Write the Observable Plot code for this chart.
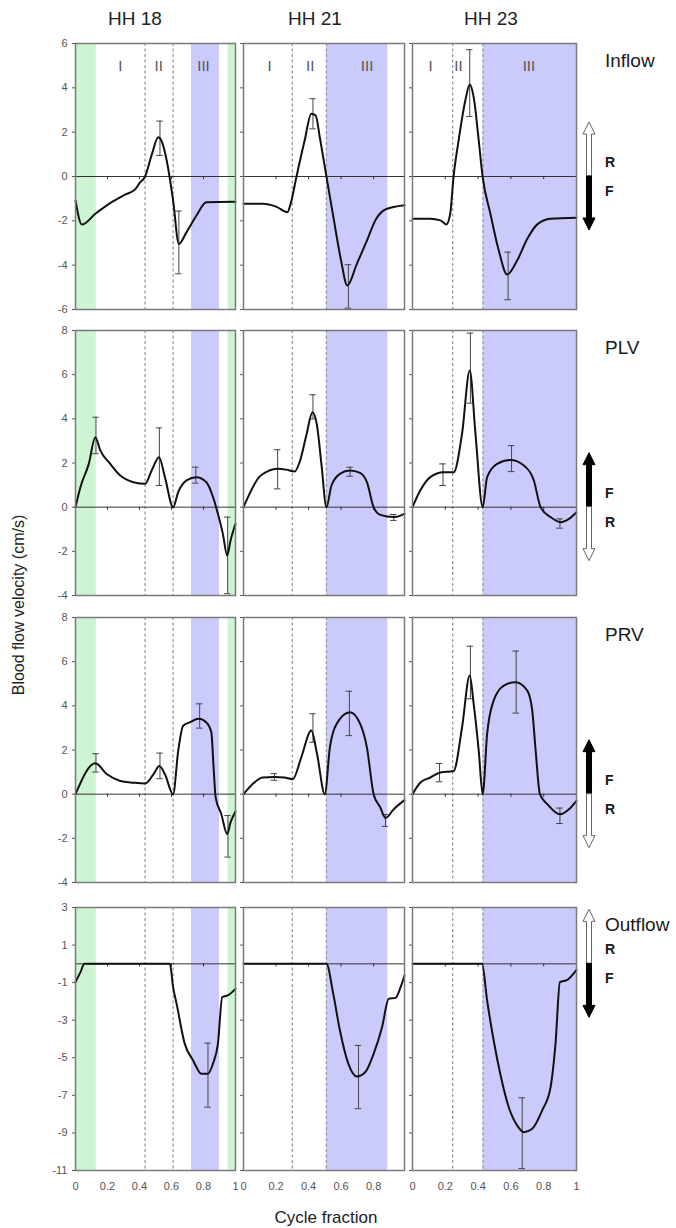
<!DOCTYPE html>
<html><head><meta charset="utf-8">
<script src="https://cdn.jsdelivr.net/npm/d3@7"></script>
<script src="https://cdn.jsdelivr.net/npm/@observablehq/plot@0.6"></script>
<style>
body{margin:0;background:#fff;font-family:"Liberation Sans",Arial,sans-serif;}
#wrap{position:relative;width:676px;height:1228px;overflow:hidden;background:#fff;}
#wrap > svg{position:absolute;}
</style></head><body><div id="wrap"></div>
<script>
// ---------- data ----------
const stages = ["HH 18", "HH 21", "HH 23"];
const vessels = ["Inflow", "PLV", "PRV", "Outflow"];
const arrowUpperLabel = ["R", "F", "F", "R"];
const arrowLowerLabel = ["F", "R", "R", "F"];
const xMax = [1, 0.99, 1];
const xTickValues = [[0,0.2,0.4,0.6,0.8,1],[0,0.2,0.4,0.6,0.8],[0,0.2,0.4,0.6,0.8,1]];
const yDomains = [[-6,6],[-4,8],[-4,8],[-11,3]];
const yTickValues = [[-6,-4,-2,0,2,4,6],[-4,-2,0,2,4,6,8],[-4,-2,0,2,4,6,8],[-11,-9,-7,-5,-3,-1,1,3]];
const phaseLines = [[0.435,0.61],[0.30,0.51],[0.245,0.43]];
const greenBands = [[[0,0.13],[0.953,1]],[],[]];
const blueBands = [[[0.725,0.90]],[[0.51,0.887]],[[0.43,1]]];
const phaseLabels = [
  [["I",0.28],["II",0.52],["III",0.80]],
  [["I",0.16],["II",0.41],["III",0.76]],
  [["I",0.11],["II",0.28],["III",0.71]]
];

const inflow18 = [[0,-1.08],[0.04,-2.17],[0.124,-1.68],[0.217,-1.2],[0.31,-0.82],[0.373,-0.58],[0.40,-0.3],[0.435,0],[0.476,0.97],[0.517,1.77],[0.538,1.6],[0.57,0.72],[0.61,-1.08],[0.646,-3.04],[0.694,-2.51],[0.756,-1.76],[0.818,-1.16],[1.0,-1.14]];
const inflow18Err = [[0.528,2.5,0.95],[0.646,-1.56,-4.39]];
const inflow21 = [[0,-1.23],[0.12,-1.23],[0.2,-1.36],[0.27,-1.61],[0.29,-1.23],[0.325,-0.03],[0.376,1.62],[0.417,2.83],[0.444,2.75],[0.469,1.77],[0.51,0],[0.552,-1.8],[0.60,-3.79],[0.638,-4.92],[0.697,-3.94],[0.759,-2.89],[0.81,-1.99],[0.862,-1.53],[0.924,-1.38],[0.99,-1.3]];
const inflow21Err = [[0.427,3.51,2.15],[0.645,-3.98,-5.94]];
const inflow23 = [[0,-1.91],[0.108,-1.91],[0.17,-1.98],[0.206,-2.16],[0.23,-1.68],[0.25,-0.03],[0.281,1.62],[0.322,3.43],[0.349,4.15],[0.373,3.58],[0.404,1.62],[0.428,-0.03],[0.475,-1.68],[0.526,-3.34],[0.577,-4.42],[0.638,-3.79],[0.70,-2.81],[0.761,-2.16],[0.842,-1.91],[1.0,-1.86]];
const inflow23Err = [[0.349,5.72,2.71],[0.583,-3.41,-5.56]];

const plv18 = [[0,0],[0.031,0.91],[0.083,1.96],[0.124,3.17],[0.155,2.57],[0.217,1.96],[0.28,1.43],[0.362,1.13],[0.435,1.06],[0.476,1.66],[0.522,2.26],[0.559,1.36],[0.61,0],[0.642,0.68],[0.694,1.21],[0.756,1.36],[0.818,1.13],[0.86,0.45],[0.89,-0.3],[0.921,-1.21],[0.948,-2.19],[0.969,-1.51],[1.0,-0.75]];
const plv18Err = [[0.128,4.07,2.42],[0.524,3.59,0.98],[0.752,1.81,1.09],[0.951,-0.45,-3.92]];
const plv21 = [[0,0],[0.096,1.36],[0.158,1.66],[0.21,1.74],[0.262,1.70],[0.314,1.61],[0.345,2.04],[0.386,3.24],[0.424,4.30],[0.452,3.70],[0.48,1.89],[0.51,0],[0.541,0.98],[0.593,1.51],[0.655,1.66],[0.717,1.55],[0.759,1.13],[0.80,0],[0.841,-0.35],[0.924,-0.45],[0.99,-0.3]];
const plv21Err = [[0.21,2.60,0.83],[0.427,5.09,4.0],[0.655,1.81,1.40],[0.924,-0.33,-0.6]];
const plv23 = [[0,0],[0.047,0.75],[0.108,1.36],[0.19,1.58],[0.251,1.58],[0.302,3.32],[0.349,6.19],[0.384,3.32],[0.428,0],[0.455,1.36],[0.516,1.96],[0.598,2.14],[0.679,1.89],[0.74,1.21],[0.781,0],[0.842,-0.45],[0.903,-0.68],[0.954,-0.53],[1.0,-0.23]];
const plv23Err = [[0.186,1.96,0.98],[0.353,7.88,4.71],[0.604,2.79,1.61],[0.899,-0.53,-0.95]];

const prv18 = [[0,0],[0.124,1.40],[0.197,0.90],[0.28,0.6],[0.362,0.52],[0.435,0.48],[0.487,0.9],[0.524,1.28],[0.559,0.9],[0.61,0],[0.642,1.96],[0.673,3.1],[0.714,3.25],[0.77,3.41],[0.818,3.25],[0.849,2.80],[0.863,1.21],[0.876,-0.15],[0.911,-0.9],[0.948,-1.81],[0.969,-1.28],[1.0,-0.78]];
const prv18Err = [[0.128,1.83,1.0],[0.528,1.86,0.70],[0.776,4.09,2.99],[0.953,-0.97,-2.85]];
const prv21 = [[0,0],[0.055,0.45],[0.117,0.75],[0.19,0.78],[0.252,0.75],[0.303,0.68],[0.355,1.66],[0.417,2.88],[0.452,1.83],[0.50,0],[0.531,2.11],[0.573,3.19],[0.655,3.71],[0.717,3.19],[0.759,2.11],[0.80,0],[0.841,-0.6],[0.873,-1.08],[0.924,-0.68],[0.99,-0.27]];
const prv21Err = [[0.19,0.93,0.63],[0.427,3.64,2.35],[0.651,4.66,2.65],[0.873,-0.92,-1.46]];
const prv23 = [[0,0],[0.047,0.52],[0.108,0.75],[0.17,0.98],[0.251,1.05],[0.302,3.02],[0.349,5.37],[0.373,4.09],[0.404,1.96],[0.428,0],[0.455,2.72],[0.495,4.24],[0.557,4.92],[0.629,5.07],[0.70,4.69],[0.73,3.79],[0.751,1.96],[0.777,0],[0.822,-0.45],[0.899,-0.91],[0.954,-0.68],[1.0,-0.3]];
const prv23Err = [[0.165,1.39,0.56],[0.353,6.70,4.32],[0.632,6.48,3.67],[0.899,-0.63,-1.33]];

const out18 = [[0,-0.97],[0.031,-0.44],[0.056,0],[0.59,0],[0.61,-1.24],[0.632,-2.13],[0.683,-4.26],[0.735,-5.14],[0.787,-5.85],[0.828,-5.85],[0.859,-5.32],[0.89,-4.26],[0.917,-1.77],[0.952,-1.68],[1.0,-1.33]];
const out18Err = [[0.828,-4.22,-7.63]];
const out21 = [[0,0],[0.51,0],[0.552,-1.6],[0.593,-3.55],[0.645,-5.32],[0.697,-5.99],[0.748,-5.77],[0.80,-4.79],[0.852,-3.37],[0.893,-1.86],[0.935,-1.81],[0.966,-1.24],[0.99,-0.62]];
const out21Err = [[0.707,-4.34,-7.71]];
const out23 = [[0,0],[0.424,0],[0.455,-1.95],[0.495,-4.08],[0.535,-5.85],[0.587,-7.63],[0.638,-8.60],[0.679,-8.96],[0.73,-8.78],[0.791,-7.80],[0.842,-6.56],[0.872,-4.25],[0.899,-0.97],[0.944,-0.85],[1.0,-0.32]];
const out23Err = [[0.669,-7.13,-10.9]];

const series = [[inflow18,inflow21,inflow23],[plv18,plv21,plv23],[prv18,prv21,prv23],[out18,out21,out23]];
const errors = [[inflow18Err,inflow21Err,inflow23Err],[plv18Err,plv21Err,plv23Err],[prv18Err,prv21Err,prv23Err],[out18Err,out21Err,out23Err]];

// ---------- layout ----------
const cols = [{x0:75,x1:235},{x0:243,x1:404},{x0:412,x1:576}];
const rows = [{y0:43,y1:309},{y0:330,y1:595},{y0:617,y1:882},{y0:907,y1:1170}];
const FONT = "'Liberation Sans', Arial, sans-serif";
const GREEN = "#cdf5d3", BLUE = "#cbcbfb";

const wrap = document.getElementById("wrap");

function arrowMark(r) {
  return (index, scales, values, dims) => {
    const g = d3.create("svg:g").attr("text-anchor", "start");
    const right = dims.width - dims.marginRight;
    const cx = right + 13, lx = right + 29;
    const y0 = scales.y(0);
    const L = 54, hl = 12, hw = 6, sw = 2.5;
    const upFilled = arrowUpperLabel[r] === "F";
    const mk = (dir, filled) => {
      const tip = y0 + dir * L, hb = tip - dir * hl;
      const pts = [[cx - sw, y0], [cx - sw, hb], [cx - hw, hb], [cx, tip], [cx + hw, hb], [cx + sw, hb], [cx + sw, y0]];
      g.append("polygon").attr("points", pts.map(p => p.join(",")).join(" "))
        .attr("fill", filled ? "#000" : "#fff").attr("stroke", filled ? "#000" : "#666").attr("stroke-width", 1);
    };
    mk(-1, upFilled);
    mk(1, !upFilled);
    const txt = (y, s, size, bold) => g.append("text").attr("x", lx).attr("y", y).attr("dy", "0.35em")
      .attr("text-anchor", "start").attr("font-size", size).attr("font-weight", bold ? "bold" : "normal")
      .attr("fill", "#1a1a1a").attr("font-family", FONT).text(s);
    txt(y0 - 14, arrowUpperLabel[r], 14, true);
    txt(y0 + 15, arrowLowerLabel[r], 14, true);
    txt(dims.marginTop + 17, vessels[r], 19, false);
    return g.node();
  };
}

for (let r = 0; r < 4; r++) {
  for (let c = 0; c < 3; c++) {
    const mL = c === 0 ? 40 : 6, mR = c === 2 ? 100 : 3, mT = 3, mB = r === 3 ? 40 : 3;
    const w = cols[c].x1 - cols[c].x0 + mL + mR;
    const h = rows[r].y1 - rows[r].y0 + mT + mB;
    const yd = yDomains[r];
    const span = yd[1] - yd[0];
    const line = series[r][c].map(([x, v]) => ({x, v}));
    const err = errors[r][c].map(([x, hi, lo]) => ({x, hi, lo}));
    const inner = xTickValues[c].filter(t => t > 0 && t < xMax[c]);
    const marks = [
      Plot.rect(greenBands[c], {x1: d => d[0], x2: d => d[1], y1: yd[0], y2: yd[1], fill: GREEN}),
      Plot.rect(blueBands[c], {x1: d => d[0], x2: d => d[1], y1: yd[0], y2: yd[1], fill: BLUE}),
      Plot.ruleX(phaseLines[c], {stroke: "#9a9a9a", strokeWidth: 1.3, strokeDasharray: "3,2.5"}),
      Plot.ruleY([0], {stroke: "#333", strokeWidth: 1}),
      Plot.ruleX(inner, {x: d => d, y1: 0, y2: -span * 0.012, stroke: "#333", strokeWidth: 1}),
      Plot.ruleX(err, {x: "x", y1: "lo", y2: "hi", stroke: "#444", strokeWidth: 1}),
      Plot.ruleY(err, {y: "hi", x1: d => d.x - 0.02, x2: d => d.x + 0.02, stroke: "#444", strokeWidth: 1}),
      Plot.ruleY(err, {y: "lo", x1: d => d.x - 0.02, x2: d => d.x + 0.02, stroke: "#444", strokeWidth: 1}),
      Plot.line(line, {x: "x", y: "v", stroke: "#111", strokeWidth: 2, curve: "monotone-x"}),
      Plot.frame({stroke: "#7a7a7a", strokeWidth: 1.5})
    ];
    if (r === 0) {
      marks.push(Plot.text(phaseLabels[c], {x: d => d[1], text: d => d[0], frameAnchor: "top", dy: 17, fontSize: 15, fill: "#555", fontFamily: FONT}));
    }
    if (c === 2) marks.push(arrowMark(r));
    const xOpt = r === 3
      ? {domain: [0, xMax[c]], ticks: xTickValues[c], tickSize: 0, tickPadding: 12, tickFormat: d => String(d), label: null}
      : {domain: [0, xMax[c]], axis: null};
    const chart = Plot.plot({
      width: w, height: h,
      marginLeft: mL, marginRight: mR, marginTop: mT, marginBottom: mB,
      style: {fontFamily: FONT, fontSize: "11px", color: "#555", background: "transparent", overflow: "visible"},
      x: xOpt,
      y: {domain: yd, ticks: yTickValues[r], tickSize: 3, tickPadding: 5, label: null,
          tickFormat: c === 0 ? (d => String(d)) : (() => "")},
      marks
    });
    chart.style.left = (cols[c].x0 - mL) + "px";
    chart.style.top = (rows[r].y0 - mT) + "px";
    wrap.appendChild(chart);
  }
}

// titles and axis captions
const ov = d3.select(wrap).append("svg").attr("width", 676).attr("height", 1228)
  .style("left", "0px").style("top", "0px").style("pointer-events", "none")
  .attr("font-family", FONT);
const titleX = [135, 315, 491];
stages.forEach((s, i) => {
  ov.append("text").attr("x", titleX[i]).attr("y", 18).attr("dy", "0.35em").attr("text-anchor", "middle")
    .attr("font-size", 19).attr("fill", "#222").text(s);
});
ov.append("text").attr("x", 326).attr("y", 1217).attr("dy", "0.35em").attr("text-anchor", "middle")
  .attr("font-size", 17).attr("fill", "#222").text("Cycle fraction");
ov.append("text").attr("transform", "translate(18,605) rotate(-90)").attr("dy", "0.35em").attr("text-anchor", "middle")
  .attr("font-size", 16).attr("fill", "#222").text("Blood flow velocity (cm/s)");
</script>
</body></html>
